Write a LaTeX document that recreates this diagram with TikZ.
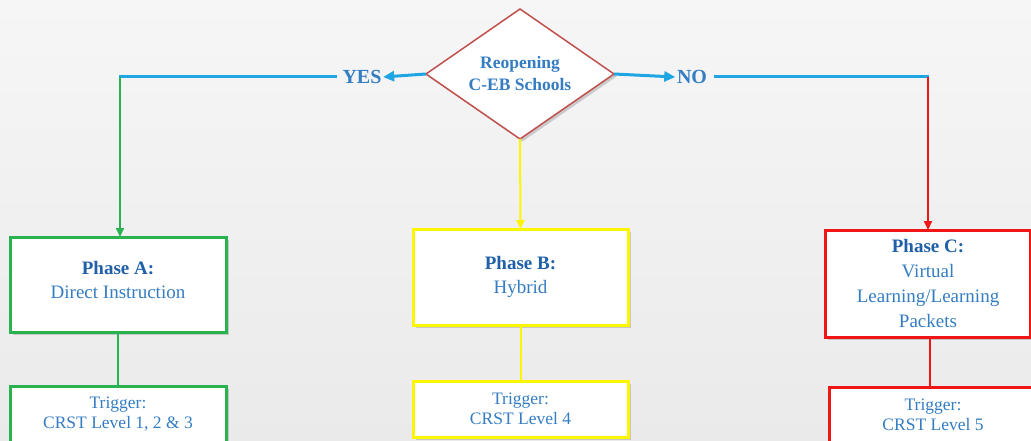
\documentclass[tikz,border=0pt]{standalone}
\usepackage{fontspec}
\setmainfont{Liberation Serif}
\usetikzlibrary{shapes.geometric,arrows.meta,shadows}
\definecolor{txtblue}{RGB}{52,125,195}
\definecolor{hdblue}{RGB}{31,96,168}
\definecolor{lineblue}{RGB}{30,165,228}
\definecolor{bgreen}{RGB}{40,178,80}
\definecolor{byellow}{RGB}{252,246,0}
\definecolor{bred}{RGB}{240,22,22}
\definecolor{dred}{RGB}{192,80,77}
\tikzset{
  shad/.style={drop shadow={shadow xshift=2.5pt,shadow yshift=-2.5pt,opacity=0.35,fill=gray}},
  phasebox/.style={draw,line width=3pt,fill=white,shad,align=center,inner sep=2pt,outer sep=0pt,
     text=txtblue,font=\fontsize{19}{24}\selectfont},
  trigbox/.style={draw,line width=3pt,fill=white,shad,align=center,inner sep=2pt,outer sep=0pt,
     text=txtblue,font=\fontsize{17.5}{20}\selectfont,minimum height=56pt},
  decision/.style={diamond,shape aspect=1.45,draw=dred,line width=1.5pt,fill=white,shad,align=center,inner sep=0pt,outer sep=0pt,
     minimum width=188pt,minimum height=130pt,text=txtblue,font=\bfseries\fontsize{17.5}{22}\selectfont},
  answer/.style={text=txtblue,font=\bfseries\fontsize{20}{22}\selectfont,inner sep=1.5pt},
  hline/.style={draw=lineblue,line width=3pt},
  hdarrow/.style={hline,-{Triangle[length=11pt,width=10pt]}},
  vline/.style={line width=2pt},
  vdarrow/.style={vline,-{Triangle[length=9pt,width=8pt]}}
}
\begin{document}
\begin{tikzpicture}[x=1pt,y=-1pt]
\useasboundingbox (0,0) rectangle (1031,441);
\fill[top color={rgb,255:red,246;green,246;blue,246},bottom color={rgb,255:red,234;green,234;blue,234}] (0,0) rectangle (1031,441);

\node[decision] (dia) at (520,74) {Reopening\\C-EB Schools};
\node[answer] (yes) at (362,77) {YES};
\node[answer] (no) at (692,77) {NO};

\node[phasebox,draw=bgreen,minimum width=216pt,minimum height=95pt,text depth=10pt] (pa) at (118,284.5)
  {{\bfseries\color{hdblue}Phase A:}\\Direct Instruction};
\node[phasebox,draw=byellow,minimum width=215pt,minimum height=96pt] (pb) at (520.5,277)
  {{\bfseries\color{hdblue}Phase B:}\\Hybrid};
\node[phasebox,draw=bred,minimum width=205pt,minimum height=107pt,font=\fontsize{19}{25}\selectfont] (pc) at (928,283.5)
  {{\bfseries\color{hdblue}Phase C:}\\Virtual\\Learning/Learning\\Packets};

\node[trigbox,draw=bgreen,minimum width=216pt] (ta) at (118,414) {Trigger:\\CRST Level 1, 2 \& 3};
\node[trigbox,draw=byellow,minimum width=215pt] (tb) at (520.5,409) {Trigger:\\CRST Level 4};
\node[trigbox,draw=bred,minimum width=208pt] (tc) at (933,415) {Trigger:\\CRST Level 5};

\coordinate (cl) at (120,77);
\coordinate (cr) at (928,77);

\draw[hdarrow] (dia.west) -- (yes.east);
\draw[hdarrow] (dia.east) -- (no.west);
\draw[hline] ([xshift=-4pt]yes.west) -- ([xshift=-1pt]cl);
\draw[hline] ([xshift=5pt]no.east) -- ([xshift=1pt]cr);
\draw[vdarrow,draw=bgreen] (cl) -- (cl |- pa.north);
\draw[vdarrow,draw=bred] (cr) -- (cr |- pc.north);
\draw[vdarrow,draw=byellow] (dia.south) -- (pb.north);

\draw[vline,draw=bgreen] (pa.south) -- (ta.north -| pa.south);
\draw[vline,draw=byellow] (pb.south) -- (tb.north -| pb.south);
\draw[vline,draw=bred] ([xshift=2pt]pc.south) -- ([xshift=2pt]tc.north -| pc.south);
\end{tikzpicture}
\end{document}
